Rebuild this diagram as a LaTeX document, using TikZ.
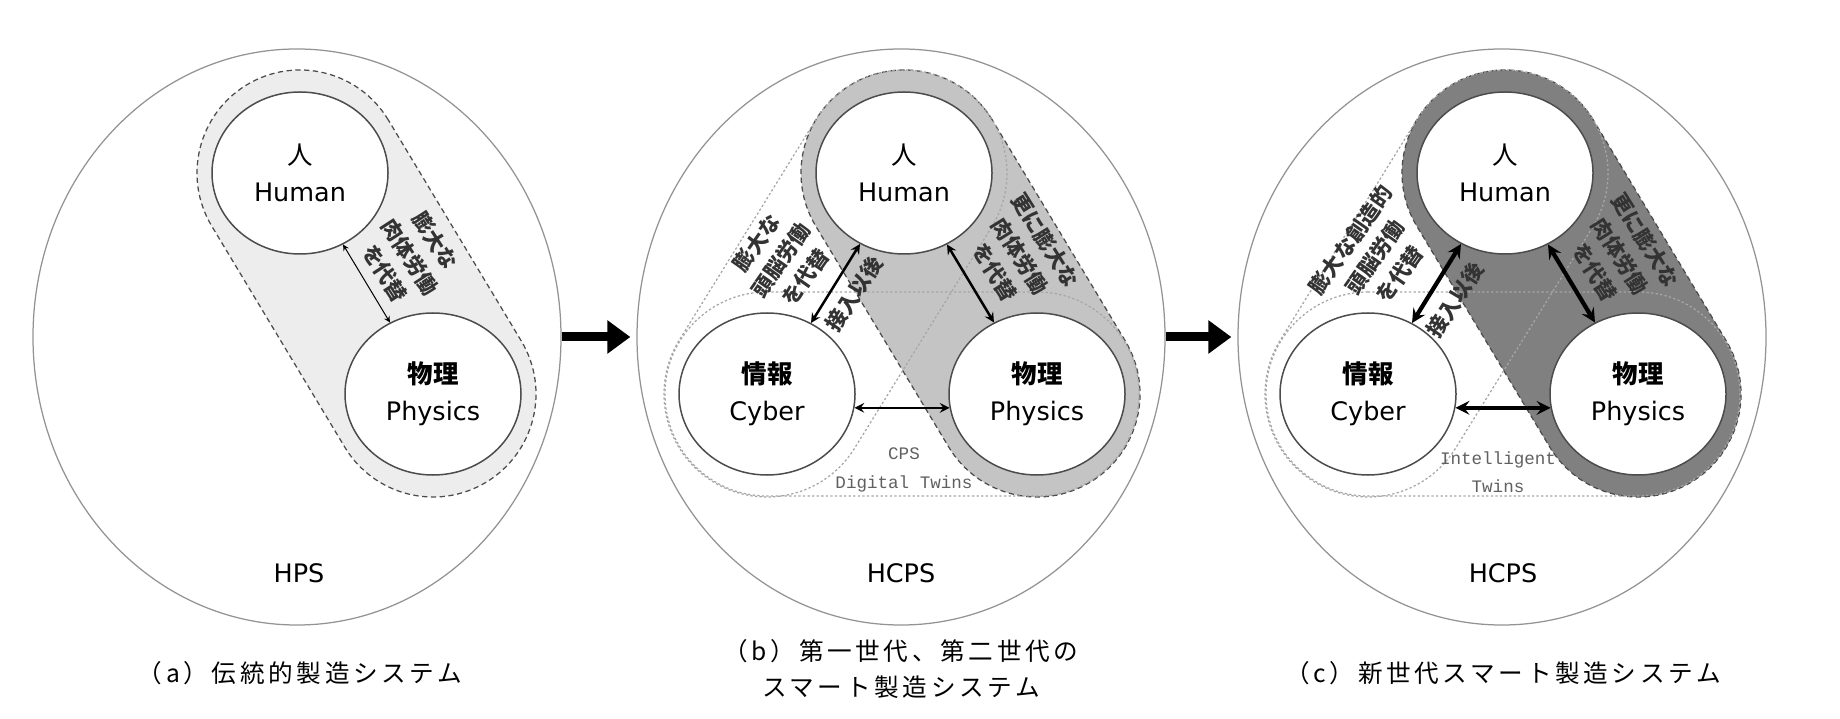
\documentclass[tikz,border=0pt]{standalone}
\usepackage{fontspec}
\setmainfont{DejaVu Sans}
\setmonofont{Liberation Mono}
\newfontfamily\jp{Noto Sans CJK JP}
\newfontfamily\jpcap[LetterSpace=15]{Noto Sans CJK JP}
\usetikzlibrary{calc, shapes.geometric, backgrounds, arrows.meta}
\tikzset{>=stealth}
\definecolor{capa}{gray}{0.93}
\definecolor{capb}{gray}{0.77}
\definecolor{capc}{gray}{0.50}

% hull of two round nodes
\newcommand\capsule[4][]{%
  \path[#1] let \p1=($(#3.center)-(#2.center)$), \n1={atan2(\y1,\x1)} in
    ($(#2.center)+(\n1+90:#4)$) arc[start angle=\n1+90, delta angle=180, radius=#4]
    -- ($(#3.center)+(\n1-90:#4)$) arc[start angle=\n1-90, delta angle=180, radius=#4] -- cycle;}

\tikzset{
  sysring/.style={ellipse, draw=gray!85, line width=0.25mm, minimum width=105.6mm,
    minimum height=115.2mm, inner sep=0pt},
  elem/.style={ellipse, draw=gray!60!black, fill=white, line width=0.3mm,
    minimum width=35.2mm, minimum height=32.4mm, inner sep=0pt, align=center,
    font=\fontsize{14.5}{21}\selectfont},
  capline/.style={draw=gray!60!black, densely dashed, line width=0.25mm},
  twinline/.style={draw=gray!70, dash pattern=on 1.3pt off 1.3pt, line width=0.25mm},
  labor/.style={font=\jp\bfseries\fontsize{12}{17}\selectfont, align=center, text=black!80},
  twin/.style={font=\ttfamily\fontsize{10}{16}\selectfont, align=center, text=gray!75!black},
  sysname/.style={font=\fontsize{14.5}{18}\selectfont},
  caption/.style={font=\jpcap\fontsize{14}{21}\selectfont, align=center},
  linka/.style={<->, line width=0.2mm},
  linkb/.style={<->, line width=0.5mm},
  linkc/.style={<->, line width=0.85mm},
  bigarrow/.style={line width=1.8mm, -{Triangle[length=4.6mm, width=6.4mm]}, shorten >=1.2mm}
}

\begin{document}
\begin{tikzpicture}[x=0.2mm, y=0.2mm]
  \useasboundingbox (0,0) rectangle (1840,718);

  % (a)
  \node[sysring] (sysa) at (297,381) {};
  \node[elem] (huma) at (300,545) {{\jp 人}\\Human};
  \node[elem] (phya) at (433,324) {{\jp\bfseries 物理}\\Physics};
  \draw[linka] (huma) -- (phya);
  \node[labor, rotate=-57] (laba) at (410,461) {膨大な\\肉体労働\\を代替};
  \node[sysname] (namea) at (299,145) {HPS};
  \node[caption] (capa) at (300,45) {（a）伝統的製造システム};

  % (b)
  \node[sysring] (sysb) at (901,381) {};
  \node[elem] (humb) at (904,545) {{\jp 人}\\Human};
  \node[elem] (cybb) at (767,324) {{\jp\bfseries 情報}\\Cyber};
  \node[elem] (phyb) at (1037,324) {{\jp\bfseries 物理}\\Physics};
  \draw[linkb] (humb) -- (cybb);
  \draw[linkb] (humb) -- (phyb);
  \draw[linkb] (cybb.-9) -- (phyb.189);
  \node[labor, rotate=55] (labb1) at (781,458) {膨大な\\頭脳労働\\を代替};
  \node[labor, rotate=57] (labb2) at (854,424) {接入以後};
  \node[labor, rotate=-58] (labb3) at (1020,462) {更に膨大な\\肉体労働\\を代替};
  \node[twin] (twinb) at (904,248) {CPS\\Digital Twins};
  \node[sysname] (nameb) at (901,145) {HCPS};
  \node[caption] (capb) at (901,49) {（b）第一世代、第二世代の\\スマート製造システム};

  % (c)
  \node[sysring] (sysc) at (1502,381) {};
  \node[elem] (humc) at (1505,545) {{\jp 人}\\Human};
  \node[elem] (cybc) at (1368,324) {{\jp\bfseries 情報}\\Cyber};
  \node[elem] (phyc) at (1638,324) {{\jp\bfseries 物理}\\Physics};
  \draw[linkc] (humc) -- (cybc);
  \draw[linkc] (humc) -- (phyc);
  \draw[linkc] (cybc.-9) -- (phyc.189);
  \node[labor, rotate=55] (labc1) at (1375,461) {膨大な創造的\\頭脳労働\\を代替};
  \node[labor, rotate=57] (labc2) at (1455,418) {接入以後};
  \node[labor, rotate=-58] (labc3) at (1620,462) {更に膨大な\\肉体労働\\を代替};
  \node[twin] (twinc) at (1498,246) {Intelligent\\Twins};
  \node[sysname] (namec) at (1503,145) {HCPS};
  \node[caption] (capc) at (1503,45) {（c）新世代スマート製造システム};

  \draw[bigarrow] (sysa.east) -- (sysb.west);
  \draw[bigarrow] (sysb.east) -- (sysc.west);

  \begin{scope}[on background layer]
    \capsule[fill=capa, capline]{huma}{phya}{103}
    \capsule[fill=capb, capline]{humb}{phyb}{103}
    \capsule[twinline]{humb}{cybb}{103}
    \capsule[twinline]{cybb}{phyb}{102}
    \capsule[fill=capc, capline]{humc}{phyc}{103}
    \capsule[twinline]{humc}{cybc}{103}
    \capsule[twinline]{cybc}{phyc}{102}
  \end{scope}
\end{tikzpicture}
\end{document}
